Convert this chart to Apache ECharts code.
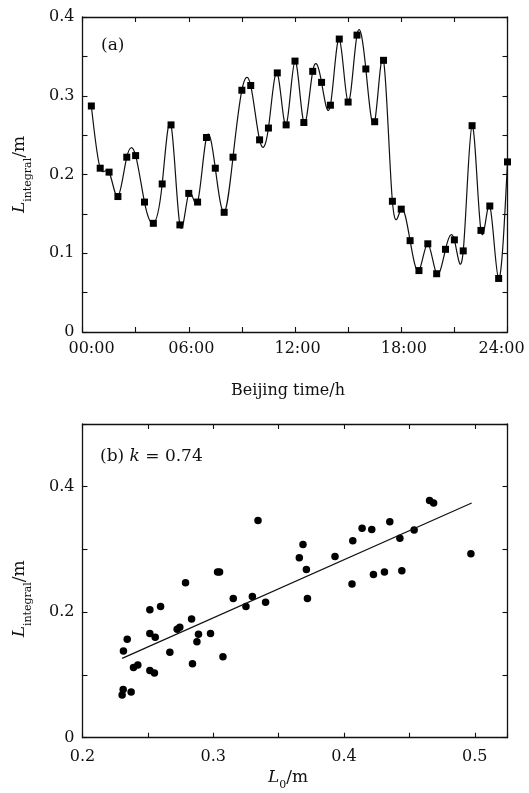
<!DOCTYPE html>
<html>
<head>
<meta charset="utf-8">
<script src="https://cdn.jsdelivr.net/npm/echarts@6/dist/echarts.min.js"></script>
<style>
  html, body { margin: 0; padding: 0; background: #fff; }
  #chart { width: 529px; height: 793px; }
</style>
</head>
<body>
<div id="chart"></div>
<script>
// (a) L_integral over the day, one value every half hour
const hours = [0.5, 1, 1.5, 2, 2.5, 3, 3.5, 4, 4.5, 5, 5.5, 6,
  6.5, 7, 7.5, 8, 8.5, 9, 9.5, 10, 10.5, 11, 11.5, 12,
  12.5, 13, 13.5, 14, 14.5, 15, 15.5, 16, 16.5, 17, 17.5, 18,
  18.5, 19, 19.5, 20, 20.5, 21, 21.5, 22, 22.5, 23, 23.5, 24];
const lIntegral = [0.287, 0.208, 0.203, 0.172, 0.222, 0.224, 0.165, 0.138, 0.188, 0.263, 0.136, 0.176,
  0.165, 0.247, 0.208, 0.152, 0.222, 0.307, 0.313, 0.244, 0.259, 0.329, 0.263, 0.344,
  0.266, 0.331, 0.317, 0.288, 0.372, 0.292, 0.377, 0.334, 0.267, 0.345, 0.166, 0.156,
  0.116, 0.078, 0.112, 0.074, 0.105, 0.117, 0.103, 0.262, 0.129, 0.160, 0.068, 0.216];
const timeLabels = ['00:00', '06:00', '12:00', '18:00', '24:00'];
const yLabelsA = ['0', '0.1', '0.2', '0.3', '0.4'];

// (b) L_integral against L0
const l0 = [0.2303, 0.2311, 0.2372, 0.2313, 0.2342, 0.2390, 0.2423, 0.2515, 0.2550, 0.2515,
  0.2597, 0.2515, 0.2556, 0.2668, 0.2724, 0.2744, 0.2788, 0.2834, 0.2841, 0.2875,
  0.2887, 0.2979, 0.3033, 0.3048, 0.3074, 0.3153, 0.3250, 0.3299, 0.3342, 0.3400,
  0.3658, 0.3686, 0.3712, 0.3720, 0.3931, 0.4061, 0.4067, 0.4138, 0.4212, 0.4225,
  0.4309, 0.4350, 0.4427, 0.4442, 0.4536, 0.4654, 0.4685, 0.4970];
const lIntB = [0.068, 0.077, 0.073, 0.138, 0.157, 0.112, 0.116, 0.107, 0.103, 0.204,
  0.209, 0.166, 0.160, 0.136, 0.173, 0.176, 0.247, 0.189, 0.118, 0.153,
  0.165, 0.166, 0.264, 0.264, 0.129, 0.222, 0.209, 0.225, 0.346, 0.216,
  0.287, 0.308, 0.268, 0.222, 0.289, 0.245, 0.314, 0.334, 0.332, 0.260,
  0.264, 0.344, 0.318, 0.266, 0.331, 0.378, 0.374, 0.293];
const fitLine = [[0.2303, 0.1265], [0.4976, 0.374]];
const xLabelsB = ['0.2', '0.3', '0.4', '0.5'];
const yLabelsB = ['0', '0.2', '0.4'];

const FONT = 'DejaVu Serif';
const INK = '#111';

// helpers
const near = (v, step) => Math.abs(v / step - Math.round(v / step)) < 1e-6;

function frameAxis(extra) {
  return Object.assign({
    type: 'value',
    axisLine: { show: true, onZero: false, lineStyle: { color: INK, width: 1.3 } },
    axisTick: { show: true, inside: true, length: 5, lineStyle: { color: INK, width: 1.1 } },
    axisLabel: { show: false },
    splitLine: { show: false }
  }, extra);
}
function labelStyle(extra) {
  return Object.assign({ show: true, color: INK, fontFamily: FONT, fontSize: 16 }, extra);
}
// italic L, lowered subscript, upright unit
const titleRich = {
  i: { fontFamily: FONT, fontStyle: 'italic', fontSize: 17, verticalAlign: 'bottom', padding: [0, 0, 5, 0], color: INK },
  s: { fontFamily: FONT, fontSize: 11, verticalAlign: 'bottom', color: INK },
  n: { fontFamily: FONT, fontSize: 17, verticalAlign: 'bottom', padding: [0, 0, 5, 0], color: INK }
};
// first / last time label sit a little inside the frame, as in the print
const timeRich = {
  l: { fontFamily: FONT, fontSize: 16, color: INK, padding: [0, 0, 0, 18] },
  c: { fontFamily: FONT, fontSize: 16, color: INK, padding: [0, 0, 0, 5] },
  r: { fontFamily: FONT, fontSize: 16, color: INK, padding: [0, 12, 0, 0] }
};
function timeLabel(v) {
  if (!near(v, 6)) return '';
  const k = Math.round(v / 6);
  const tag = k === 0 ? 'l' : (k === timeLabels.length - 1 ? 'r' : 'c');
  return '{' + tag + '|' + timeLabels[k] + '}';
}

// natural cubic spline through pixel points (x increasing) -> svg path
function splinePath(pts) {
  const n = pts.length;
  const h = [], M = new Array(n).fill(0);
  for (let i = 0; i < n - 1; i++) h.push(pts[i + 1][0] - pts[i][0]);
  const a = [], b = [], c = [], d = [];
  for (let i = 1; i < n - 1; i++) {
    a.push(h[i - 1]);
    b.push(2 * (h[i - 1] + h[i]));
    c.push(h[i]);
    d.push(6 * ((pts[i + 1][1] - pts[i][1]) / h[i] - (pts[i][1] - pts[i - 1][1]) / h[i - 1]));
  }
  // thomas
  const m = b.length;
  for (let i = 1; i < m; i++) {
    const w = a[i] / b[i - 1];
    b[i] -= w * c[i - 1];
    d[i] -= w * d[i - 1];
  }
  for (let i = m - 1; i >= 0; i--) {
    M[i + 1] = (d[i] - (i < m - 1 ? c[i] * M[i + 2] : 0)) / b[i];
  }
  let path = 'M' + pts[0][0] + ',' + pts[0][1];
  for (let i = 0; i < n - 1; i++) {
    const hi = h[i];
    const sl = (pts[i + 1][1] - pts[i][1]) / hi;
    const m0 = sl - hi * (2 * M[i] + M[i + 1]) / 6;
    const m1 = sl + hi * (M[i] + 2 * M[i + 1]) / 6;
    path += 'C' + (pts[i][0] + hi / 3) + ',' + (pts[i][1] + m0 * hi / 3) + ' ' +
      (pts[i + 1][0] - hi / 3) + ',' + (pts[i + 1][1] - m1 * hi / 3) + ' ' +
      pts[i + 1][0] + ',' + pts[i + 1][1];
  }
  return path;
}

const chart = echarts.init(document.getElementById('chart'), null, { renderer: 'canvas' });

const option = {
  animation: false,
  backgroundColor: '#fff',
  grid: [
    { left: 82.5, top: 17, width: 425, height: 315, outerBoundsMode: 'none', containLabel: false },
    { left: 82.5, top: 424, width: 425, height: 313.7, outerBoundsMode: 'none', containLabel: false }
  ],
  xAxis: [
    frameAxis({
      gridIndex: 0, position: 'bottom', min: 0, max: 24, interval: 3,
      axisLabel: labelStyle({ margin: 9, formatter: timeLabel, rich: timeRich }),
      name: 'Beijing time/h', nameLocation: 'middle', nameGap: 51,
      nameTextStyle: { fontFamily: FONT, fontSize: 16, color: INK, padding: [0, 14, 0, 0] }
    }),
    frameAxis({ gridIndex: 0, position: 'top', min: 0, max: 24, interval: 3 }),
    frameAxis({
      gridIndex: 1, position: 'bottom', min: 0.2, max: 0.525, interval: 0.05,
      axisLabel: labelStyle({
        margin: 11,
        formatter: v => (near(v, 0.1) && v < 0.51) ? xLabelsB[Math.round((v - 0.2) / 0.1)] : ''
      }),
      name: '{i|L}{s|0}{n|/m}', nameLocation: 'middle', nameGap: 31,
      nameTextStyle: { rich: titleRich, padding: [0, 14, 0, 0] }
    }),
    frameAxis({ gridIndex: 1, position: 'top', min: 0.2, max: 0.525, interval: 0.05 })
  ],
  yAxis: [
    frameAxis({
      gridIndex: 0, position: 'left', min: 0, max: 0.4, interval: 0.05,
      axisLabel: labelStyle({
        margin: 8,
        formatter: v => near(v, 0.1) ? yLabelsA[Math.round(v / 0.1)] : ''
      }),
      name: '{i|L}{s|integral}{n|/m}', nameLocation: 'middle', nameGap: 49,
      nameTextStyle: { rich: titleRich }
    }),
    frameAxis({ gridIndex: 0, position: 'right', min: 0, max: 0.4, interval: 0.05 }),
    frameAxis({
      gridIndex: 1, position: 'left', min: 0, max: 0.5, interval: 0.1,
      axisLabel: labelStyle({
        margin: 8,
        formatter: v => (near(v, 0.2) && v < 0.45) ? yLabelsB[Math.round(v / 0.2)] : ''
      }),
      name: '{i|L}{s|integral}{n|/m}', nameLocation: 'middle', nameGap: 49,
      nameTextStyle: { rich: titleRich, padding: [0, 36, 0, 0] }
    }),
    frameAxis({ gridIndex: 1, position: 'right', min: 0, max: 0.5, interval: 0.1 })
  ],
  series: [
    {
      // spline through the half-hourly values, placed with the axes' own scales
      name: 'spline', type: 'custom', coordinateSystem: 'cartesian2d',
      xAxisIndex: 0, yAxisIndex: 0, clip: true, z: 2,
      data: [[hours[0], lIntegral[0]]],
      renderItem: (params, api) => {
        const pts = hours.map((h, i) => api.coord([h, lIntegral[i]]));
        return {
          type: 'path',
          shape: { pathData: splinePath(pts) },
          style: { stroke: INK, lineWidth: 1.2, fill: 'none' }
        };
      }
    },
    {
      name: 'L_integral', type: 'scatter', xAxisIndex: 0, yAxisIndex: 0, z: 3,
      data: hours.map((h, i) => [h, lIntegral[i]]),
      symbol: 'rect', symbolSize: 7,
      itemStyle: { color: '#000', opacity: 1 }
    },
    {
      name: 'scatter', type: 'scatter', xAxisIndex: 2, yAxisIndex: 2,
      data: l0.map((x, i) => [x, lIntB[i]]),
      symbol: 'circle', symbolSize: 7.5,
      itemStyle: { color: '#000', opacity: 1 }
    },
    {
      name: 'fit', type: 'line', xAxisIndex: 2, yAxisIndex: 2,
      data: fitLine, showSymbol: false, symbol: 'none',
      lineStyle: { color: INK, width: 1.2 }
    }
  ],
  graphic: [
    {
      type: 'text', left: 101, top: 37,
      style: { text: '(a)', fontFamily: FONT, fontSize: 17, fill: INK }
    },
    {
      type: 'text', left: 100, top: 448,
      style: {
        text: '{n|(b) }{i|k}{n| = 0.74}',
        rich: {
          n: { fontFamily: FONT, fontSize: 17, fill: INK },
          i: { fontFamily: FONT, fontSize: 17, fontStyle: 'italic', fill: INK }
        }
      }
    }
  ]
};

chart.setOption(option);
window.addEventListener('resize', () => chart.resize());
</script>
</body>
</html>
